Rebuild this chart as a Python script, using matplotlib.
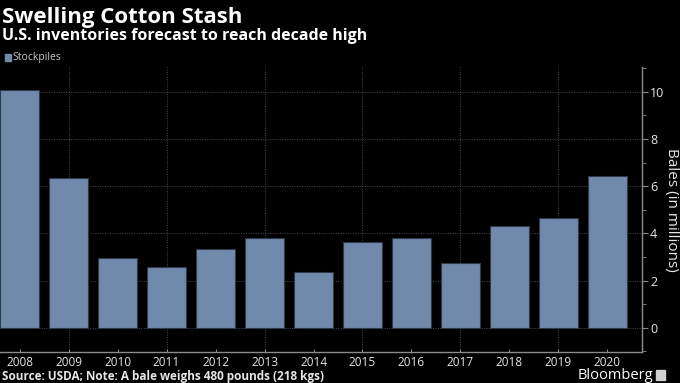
import matplotlib
matplotlib.use("Agg")
import matplotlib.pyplot as plt
from matplotlib.ticker import MultipleLocator

years = [2008, 2009, 2010, 2011, 2012, 2013, 2014, 2015, 2016, 2017, 2018, 2019, 2020]
stockpiles = [10.06, 6.33, 2.94, 2.59, 3.35, 3.79, 2.35, 3.65, 3.79, 2.76, 4.30, 4.66, 6.43]
year_labels = [str(y) for y in years]

bg = '#000000'
bar_color = '#7189ab'
grid_color = '#4a4a4a'
text_color = '#e6e6e6'
axis_color = '#8c8c8c'

plt.rcParams['font.family'] = ['Open Sans', 'DejaVu Sans']

fig = plt.figure(figsize=(6.8, 3.83), dpi=100, facecolor=bg)
ax = fig.add_axes([0.0, 0.081, 0.9437, 0.744], facecolor=bg)

ax.bar(years, stockpiles, width=0.8, color=bar_color, edgecolor='#2e3a4a', linewidth=0.8, zorder=3)

ax.set_xlim(2007.6, 2020.7)
ax.set_ylim(-1.03, 11.05)

ax.yaxis.tick_right()
ax.yaxis.set_label_position('right')
ax.set_yticks([0, 2, 4, 6, 8, 10])
ax.yaxis.set_minor_locator(MultipleLocator(1))
ax.set_xticks(years)
ax.set_xticklabels(year_labels)

ax.tick_params(axis='y', which='major', colors=axis_color, labelcolor=text_color, labelsize=9, length=4, pad=2)
ax.tick_params(axis='y', which='minor', colors=axis_color, length=3)
ax.tick_params(axis='x', which='major', colors=axis_color, labelcolor=text_color, labelsize=8.5, length=2, direction='in', pad=3)

# horizontal dotted grid at major y ticks
for v in [0, 2, 4, 6, 8, 10]:
    ax.axhline(v, color=grid_color, linestyle=(0, (1, 1.5)), linewidth=0.7, zorder=1)
# vertical dotted grid at odd years
for y in years[1::2]:
    ax.axvline(y, color=grid_color, linestyle=(0, (1, 1.5)), linewidth=0.7, zorder=1)

for side in ['top', 'left']:
    ax.spines[side].set_visible(False)
for side in ['right', 'bottom']:
    ax.spines[side].set_color(axis_color)
    ax.spines[side].set_linewidth(1)

ax.set_ylabel('Bales (in millions)', color=text_color, fontsize=11, rotation=270, va='center')
ax.yaxis.set_label_coords(1.046, 0.5)

fig.text(0.003, 0.955, 'Swelling Cotton Stash', color='white', fontsize=16, fontweight='bold', va='center', ha='left')
fig.text(0.003, 0.905, 'U.S. inventories forecast to reach decade high', color='white', fontsize=11.5, fontweight='bold', va='center', ha='left')

fig.patches.append(plt.Rectangle((0.007, 0.842), 0.009, 0.018, transform=fig.transFigure, color=bar_color, figure=fig))
fig.text(0.019, 0.851, 'Stockpiles', color='#c8c8c8', fontsize=7.5, va='center', ha='left')

fig.text(0.003, 0.018, 'Source: USDA; Note: A bale weighs 480 pounds (218 kgs)', color=text_color, fontsize=8.5, fontweight='bold', va='center', ha='left')
fig.text(0.96, 0.02, 'Bloomberg', color='white', fontsize=10.5, fontweight='medium', va='center', ha='right')
fig.patches.append(plt.Rectangle((0.965, 0.007), 0.013, 0.026, transform=fig.transFigure, color='#d0d0d0', figure=fig))

fig.savefig('out.png', dpi=100, facecolor=bg)
